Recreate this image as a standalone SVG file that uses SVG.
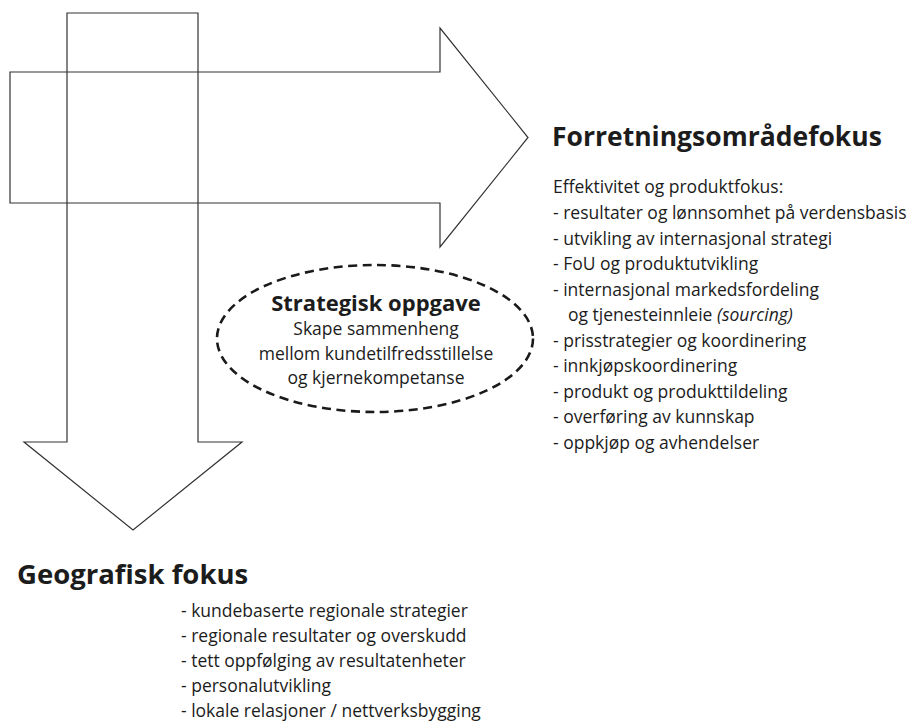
<svg xmlns="http://www.w3.org/2000/svg" width="916" height="722" viewBox="0 0 916 722">
  <style>
    .arrow { fill: none; stroke: #333; stroke-width: 1.2; stroke-linejoin: miter; }
    .ell { fill: none; stroke: #1a1a1a; stroke-width: 2.6; stroke-dasharray: 9 5.5; }
    text { font-family: "Open Sans", "Noto Sans", "DejaVu Sans", sans-serif; fill: #1c1c1c; }
    .h1 { font-size: 26.5px; font-weight: 700; }
    .h1g { font-size: 27.5px; font-weight: 700; }
    .h2 { font-size: 22px; font-weight: 700; }
    .li { font-size: 17.5px; }
    .it { font-style: italic; }
  </style>
  <rect width="916" height="722" fill="#ffffff"/>

  <g id="arrow-geografisk">
    <polygon class="arrow" points="67,13 198,13 198,442 242,442 133,530 24,442 67,442"/>
  </g>

  <g id="arrow-forretningsomrade">
    <polygon class="arrow" points="10,72 440,72 440,28 528,137.5 440,247 440,203 10,203"/>
  </g>

  <g id="node-strategisk-oppgave">
    <ellipse class="ell" cx="375" cy="338.5" rx="158" ry="73.5"/>
    <text class="h2" x="376" y="311" text-anchor="middle">Strategisk oppgave</text>
    <text class="li" x="376" y="335" text-anchor="middle">Skape sammenheng</text>
    <text class="li" x="376" y="360" text-anchor="middle">mellom kundetilfredsstillelse</text>
    <text class="li" x="376" y="384" text-anchor="middle">og kjernekompetanse</text>
  </g>

  <g id="node-forretningsomradefokus">
    <text class="h1" x="552" y="146">Forretningsområdefokus</text>
    <text class="li" x="553" y="193">Effektivitet og produktfokus:</text>
    <text class="li" x="553" y="219">- resultater og lønnsomhet på verdensbasis</text>
    <text class="li" x="553" y="244.5">- utvikling av internasjonal strategi</text>
    <text class="li" x="553" y="270">- FoU og produktutvikling</text>
    <text class="li" x="553" y="295.5">- internasjonal markedsfordeling</text>
    <text class="li" x="568" y="321">og tjenesteinnleie <tspan class="it">(sourcing)</tspan></text>
    <text class="li" x="553" y="346.5">- prisstrategier og koordinering</text>
    <text class="li" x="553" y="372">- innkjøpskoordinering</text>
    <text class="li" x="553" y="397.5">- produkt og produkttildeling</text>
    <text class="li" x="553" y="423">- overføring av kunnskap</text>
    <text class="li" x="553" y="448.5">- oppkjøp og avhendelser</text>
  </g>

  <g id="node-geografisk-fokus">
    <text class="h1g" x="17" y="584">Geografisk fokus</text>
    <text class="li" x="181" y="617">- kundebaserte regionale strategier</text>
    <text class="li" x="181" y="642">- regionale resultater og overskudd</text>
    <text class="li" x="181" y="667">- tett oppfølging av resultatenheter</text>
    <text class="li" x="181" y="692">- personalutvikling</text>
    <text class="li" x="181" y="717">- lokale relasjoner / nettverksbygging</text>
  </g>

  <g id="connectors"></g>
</svg>
